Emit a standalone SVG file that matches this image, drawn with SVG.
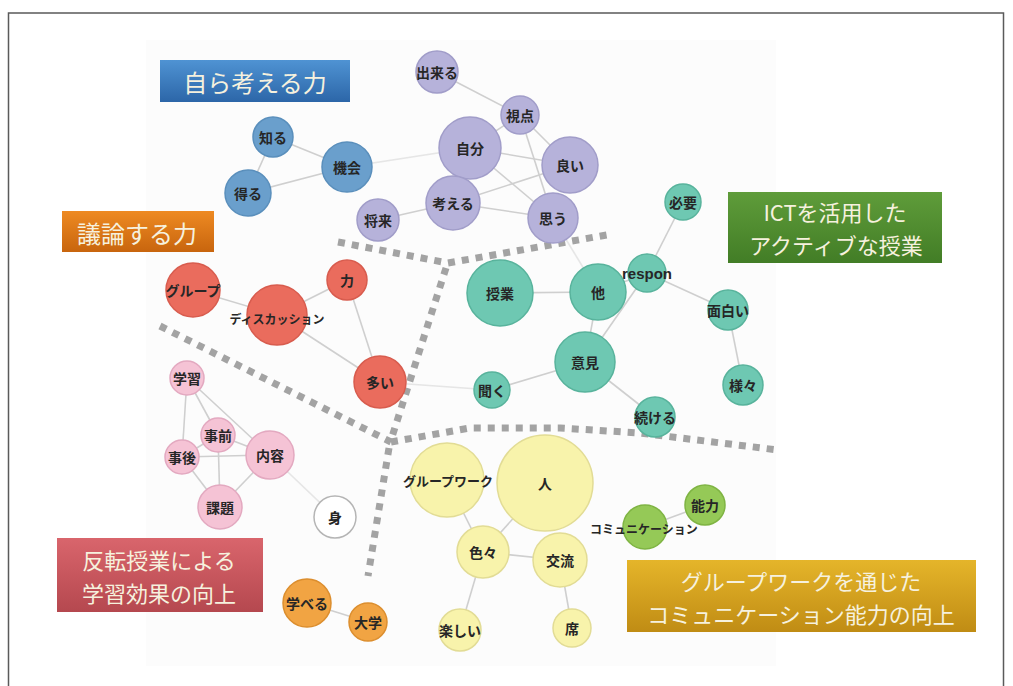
<svg xmlns="http://www.w3.org/2000/svg" width="1013" height="686" viewBox="0 0 1013 686">
<defs>
<linearGradient id="gBlue" x1="0" y1="0" x2="0" y2="1"><stop offset="0" stop-color="#4f93d3"/><stop offset="1" stop-color="#2c66a8"/></linearGradient>
<linearGradient id="gOrange" x1="0" y1="0" x2="0" y2="1"><stop offset="0" stop-color="#ee8a22"/><stop offset="1" stop-color="#c8650e"/></linearGradient>
<linearGradient id="gGreen" x1="0" y1="0" x2="0" y2="1"><stop offset="0" stop-color="#5f9c3a"/><stop offset="1" stop-color="#427d26"/></linearGradient>
<linearGradient id="gRed" x1="0" y1="0" x2="0" y2="1"><stop offset="0" stop-color="#d9656c"/><stop offset="1" stop-color="#b5484f"/></linearGradient>
<linearGradient id="gGold" x1="0" y1="0" x2="0" y2="1"><stop offset="0" stop-color="#e5b52a"/><stop offset="1" stop-color="#c08c14"/></linearGradient>
</defs>
<style>
text{font-family:"Noto Sans CJK JP","Noto Sans",sans-serif;text-anchor:middle;dominant-baseline:central}
.n{font-size:14px;fill:#262626;font-weight:bold}
.s{font-size:12px;fill:#262626;font-weight:bold}
.t{font-size:22px;fill:#f6f1de}
.e line{stroke:#cfcfcf;stroke-width:1.6}
.d{fill:none;stroke:#a3a3a3;stroke-width:7;stroke-dasharray:7 7}
.blue{fill:#6a9fcc;stroke:#5a8fbc;stroke-width:1.5}
.pur{fill:#b6b2da;stroke:#a19dc9;stroke-width:1.5}
.red{fill:#ea6c5d;stroke:#d85c4e;stroke-width:1.5}
.teal{fill:#6ec8b2;stroke:#58b39c;stroke-width:1.5}
.pink{fill:#f5c3d5;stroke:#e3a9c0;stroke-width:1.5}
.wht{fill:#ffffff;stroke:#b5b5b5;stroke-width:1.5}
.org{fill:#f1a443;stroke:#dc8e2e;stroke-width:1.5}
.yel{fill:#f8f3ab;stroke:#e2dc95;stroke-width:1.5}
.grn{fill:#95c957;stroke:#7fb443;stroke-width:1.5}
</style>
<rect x="0" y="0" width="1013" height="686" fill="#ffffff"/>
<rect x="8.5" y="13" width="995" height="690" fill="none" stroke="#5a5a5a" stroke-width="1.5"/>
<rect x="146" y="40" width="630" height="626" fill="#fcfcfc"/>

<g id="dividers">
<polyline class="d" points="338,242 448,263 612,234"/>
<polyline class="d" points="446,268 391,440"/>
<polyline class="d" points="160,326 391,442"/>
<polyline class="d" points="391,442 470,428 560,428 640,433 778,450"/>
<polyline class="d" points="389,448 368,576"/>
</g>

<g id="connectors" class="e">
<line x1="273" y1="137" x2="347" y2="167"/>
<line x1="248" y1="193" x2="347" y2="167"/>
<line x1="273" y1="137" x2="248" y2="193"/>
<line x1="347" y1="167" x2="470" y2="148" stroke-opacity="0.5"/>
<line x1="437" y1="72" x2="520" y2="115"/>
<line x1="520" y1="115" x2="470" y2="148"/>
<line x1="520" y1="115" x2="570" y2="165"/>
<line x1="520" y1="115" x2="553" y2="218"/>
<line x1="470" y1="148" x2="570" y2="165"/>
<line x1="470" y1="148" x2="553" y2="218"/>
<line x1="470" y1="148" x2="453" y2="203"/>
<line x1="453" y1="203" x2="570" y2="165"/>
<line x1="453" y1="203" x2="553" y2="218"/>
<line x1="453" y1="203" x2="378" y2="220"/>
<line x1="553" y1="218" x2="598" y2="292" stroke-opacity="0.5"/>
<line x1="193" y1="290" x2="277" y2="315"/>
<line x1="277" y1="315" x2="347" y2="280"/>
<line x1="277" y1="315" x2="380" y2="382"/>
<line x1="347" y1="280" x2="380" y2="382"/>
<line x1="380" y1="382" x2="492" y2="390" stroke-opacity="0.5"/>
<line x1="683" y1="202" x2="647" y2="273"/>
<line x1="500" y1="293" x2="598" y2="292"/>
<line x1="598" y1="292" x2="647" y2="273"/>
<line x1="598" y1="292" x2="585" y2="362"/>
<line x1="647" y1="273" x2="585" y2="362"/>
<line x1="647" y1="273" x2="728" y2="310"/>
<line x1="728" y1="310" x2="743" y2="385"/>
<line x1="585" y1="362" x2="492" y2="390"/>
<line x1="585" y1="362" x2="655" y2="417"/>
<line x1="187" y1="378" x2="182" y2="457"/>
<line x1="187" y1="378" x2="218" y2="435"/>
<line x1="187" y1="378" x2="270" y2="455"/>
<line x1="218" y1="435" x2="270" y2="455"/>
<line x1="182" y1="457" x2="270" y2="455"/>
<line x1="218" y1="435" x2="220" y2="507"/>
<line x1="182" y1="457" x2="220" y2="507"/>
<line x1="270" y1="455" x2="220" y2="507"/>
<line x1="218" y1="435" x2="182" y2="457"/>
<line x1="270" y1="455" x2="335" y2="517" stroke-opacity="0.5"/>
<line x1="307" y1="603" x2="368" y2="622" stroke="#b8c8dc"/>
<line x1="447" y1="480" x2="483" y2="552"/>
<line x1="545" y1="483" x2="483" y2="552"/>
<line x1="483" y1="552" x2="560" y2="560"/>
<line x1="483" y1="552" x2="460" y2="630"/>
<line x1="560" y1="560" x2="572" y2="628"/>
<line x1="645" y1="527" x2="705" y2="505"/>
</g>

<g id="n-shiru"><circle class="blue" cx="273" cy="137" r="20"/><text class="n" x="273" y="137">知る</text></g>
<g id="n-kikai"><circle class="blue" cx="347" cy="167" r="25"/><text class="n" x="347" y="167">機会</text></g>
<g id="n-eru"><circle class="blue" cx="248" cy="193" r="23"/><text class="n" x="248" y="193">得る</text></g>

<g id="n-dekiru"><circle class="pur" cx="437" cy="72" r="21"/><text class="n" x="437" y="72">出来る</text></g>
<g id="n-shiten"><circle class="pur" cx="520" cy="115" r="19"/><text class="n" x="520" y="115">視点</text></g>
<g id="n-jibun"><circle class="pur" cx="470" cy="148" r="31"/><text class="n" x="470" y="148">自分</text></g>
<g id="n-yoi"><circle class="pur" cx="570" cy="165" r="28"/><text class="n" x="570" y="165">良い</text></g>
<g id="n-kangaeru"><circle class="pur" cx="453" cy="203" r="27"/><text class="n" x="453" y="203">考える</text></g>
<g id="n-omou"><circle class="pur" cx="553" cy="218" r="25"/><text class="n" x="553" y="218">思う</text></g>
<g id="n-shourai"><circle class="pur" cx="378" cy="220" r="21"/><text class="n" x="378" y="220">将来</text></g>

<g id="n-group"><circle class="red" cx="193" cy="290" r="27"/><text class="n" x="193" y="290">グループ</text></g>
<g id="n-discussion"><circle class="red" cx="277" cy="315" r="30"/><text class="s" x="277" y="318">ディスカッション</text></g>
<g id="n-chikara"><circle class="red" cx="347" cy="280" r="20"/><text class="n" x="347" y="280">力</text></g>
<g id="n-ooi"><circle class="red" cx="380" cy="382" r="26"/><text class="n" x="380" y="382">多い</text></g>

<g id="n-hitsuyou"><circle class="teal" cx="683" cy="202" r="18"/><text class="n" x="683" y="202">必要</text></g>
<g id="n-respon"><circle class="teal" cx="647" cy="273" r="19"/><text class="n" x="647" y="273" style="font-family:'Liberation Sans',sans-serif;font-size:15px">respon</text></g>
<g id="n-jugyou"><circle class="teal" cx="500" cy="293" r="33"/><text class="n" x="500" y="293">授業</text></g>
<g id="n-hoka"><circle class="teal" cx="598" cy="292" r="28"/><text class="n" x="598" y="292">他</text></g>
<g id="n-iken"><circle class="teal" cx="585" cy="362" r="30"/><text class="n" x="585" y="362">意見</text></g>
<g id="n-omoshiroi"><circle class="teal" cx="728" cy="310" r="20"/><text class="n" x="728" y="310">面白い</text></g>
<g id="n-samazama"><circle class="teal" cx="743" cy="385" r="20"/><text class="n" x="743" y="385">様々</text></g>
<g id="n-kiku"><circle class="teal" cx="492" cy="390" r="18"/><text class="n" x="492" y="390">聞く</text></g>
<g id="n-tsuzukeru"><circle class="teal" cx="655" cy="417" r="20"/><text class="n" x="655" y="417">続ける</text></g>

<g id="n-gakushuu"><circle class="pink" cx="187" cy="378" r="17"/><text class="n" x="187" y="378">学習</text></g>
<g id="n-jizen"><circle class="pink" cx="218" cy="435" r="17"/><text class="n" x="218" y="435">事前</text></g>
<g id="n-jigo"><circle class="pink" cx="182" cy="457" r="17"/><text class="n" x="182" y="457">事後</text></g>
<g id="n-naiyou"><circle class="pink" cx="270" cy="455" r="24"/><text class="n" x="270" y="455">内容</text></g>
<g id="n-kadai"><circle class="pink" cx="220" cy="507" r="22"/><text class="n" x="220" y="507">課題</text></g>
<g id="n-mi"><circle class="wht" cx="335" cy="517" r="21"/><text class="n" x="335" y="517">身</text></g>

<g id="n-manaberu"><circle class="org" cx="307" cy="603" r="24"/><text class="n" x="307" y="603">学べる</text></g>
<g id="n-daigaku"><circle class="org" cx="368" cy="622" r="19"/><text class="n" x="368" y="622">大学</text></g>

<g id="n-groupwork"><circle class="yel" cx="447" cy="480" r="37"/><text class="n" x="448" y="480" style="font-size:13px">グループワーク</text></g>
<g id="n-hito"><circle class="yel" cx="545" cy="483" r="48"/><text class="n" x="545" y="483">人</text></g>
<g id="n-iroiro"><circle class="yel" cx="483" cy="552" r="26"/><text class="n" x="483" y="552">色々</text></g>
<g id="n-kouryuu"><circle class="yel" cx="560" cy="560" r="27"/><text class="n" x="560" y="560">交流</text></g>
<g id="n-tanoshii"><circle class="yel" cx="460" cy="630" r="21"/><text class="n" x="460" y="630">楽しい</text></g>
<g id="n-seki"><circle class="yel" cx="572" cy="628" r="19"/><text class="n" x="572" y="628">席</text></g>

<g id="n-communication"><circle class="grn" cx="645" cy="527" r="22"/><text class="s" x="644" y="528">コミュニケーション</text></g>
<g id="n-nouryoku"><circle class="grn" cx="705" cy="505" r="20"/><text class="n" x="705" y="505">能力</text></g>

<g id="label-jibun"><rect x="160" y="60" width="190" height="42" fill="url(#gBlue)"/><text class="t" x="255" y="81" style="font-size:24px">自ら考える力</text></g>
<g id="label-giron"><rect x="62" y="211" width="152" height="41" fill="url(#gOrange)"/><text class="t" x="137" y="232" style="font-size:24px">議論する力</text></g>
<g id="label-ict"><rect x="728" y="192" width="214" height="71" fill="url(#gGreen)"/><text class="t" x="835" y="211">ICTを活用した</text><text class="t" x="836" y="244">アクティブな授業</text></g>
<g id="label-hanten"><rect x="57" y="538" width="206" height="74" fill="url(#gRed)"/><text class="t" x="159" y="559">反転授業による</text><text class="t" x="159" y="592">学習効果の向上</text></g>
<g id="label-gw"><rect x="627" y="560" width="349" height="72" fill="url(#gGold)"/><text class="t" x="801" y="580">グループワークを通じた</text><text class="t" x="801" y="613">コミュニケーション能力の向上</text></g>
</svg>
